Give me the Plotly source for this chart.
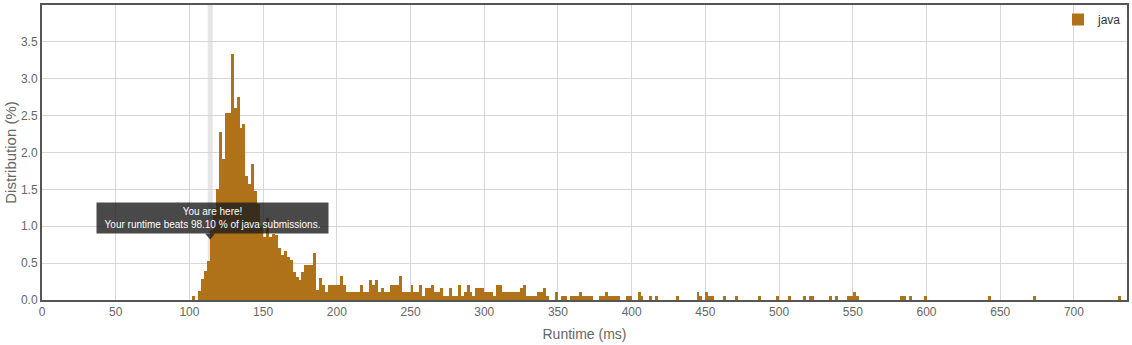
import plotly.graph_objects as go

# Runtime bins (ms, bin centres, 2 ms wide) and share of submissions (%)
runtime_ms = [
    103, 107, 109, 111, 113, 115, 117, 119, 121, 123, 125, 127, 129, 131, 133, 135, 137, 139,
    141, 143, 145, 147, 149, 151, 153, 155, 157, 159, 161, 163, 165, 167, 169, 171, 173, 175,
    177, 179, 181, 183, 185, 187, 189, 191, 193, 195, 197, 199, 201, 203, 205, 207, 209, 211,
    213, 215, 217, 219, 221, 223, 225, 227, 229, 231, 233, 235, 237, 239, 241, 243, 245, 247,
    249, 251, 253, 255, 257, 259, 261, 263, 265, 267, 269, 271, 273, 275, 277, 279, 281, 283,
    285, 287, 289, 291, 293, 295, 297, 299, 301, 303, 305, 307, 309, 311, 313, 315, 317, 319,
    321, 323, 325, 327, 329, 331, 333, 335, 337, 339, 341, 343, 349, 353, 355, 359, 361, 363,
    365, 367, 369, 371, 373, 379, 381, 383, 385, 387, 389, 391, 397, 399, 405, 407, 413, 417,
    431, 445, 447, 451, 453, 455, 463, 471, 487, 499, 507, 517, 521, 523, 535, 539, 547, 549,
    551, 553, 583, 585, 589, 599, 643, 673, 731,
]
distribution_pct = [
    0.05, 0.12, 0.28, 0.39, 0.53, 0.95, 1.25, 1.50, 2.28, 1.91, 2.53, 2.53, 3.33, 2.60, 2.75, 2.33, 2.38, 1.68,
    1.57, 1.85, 1.48, 1.30, 1.00, 0.85, 1.11, 0.85, 0.90, 0.88, 0.70, 0.61, 0.67, 0.58, 0.54, 0.38, 0.31, 0.27,
    0.38, 0.47, 0.47, 0.47, 0.64, 0.14, 0.30, 0.21, 0.11, 0.21, 0.21, 0.21, 0.21, 0.32, 0.21, 0.11, 0.11, 0.11,
    0.11, 0.11, 0.21, 0.11, 0.11, 0.27, 0.21, 0.27, 0.11, 0.16, 0.11, 0.11, 0.21, 0.21, 0.21, 0.32, 0.11, 0.11,
    0.11, 0.21, 0.11, 0.11, 0.21, 0.05, 0.16, 0.16, 0.21, 0.11, 0.11, 0.16, 0.05, 0.05, 0.16, 0.05, 0.05, 0.21,
    0.05, 0.11, 0.21, 0.11, 0.05, 0.16, 0.16, 0.16, 0.11, 0.11, 0.11, 0.05, 0.21, 0.21, 0.11, 0.11, 0.11, 0.11,
    0.11, 0.11, 0.16, 0.21, 0.05, 0.05, 0.05, 0.05, 0.11, 0.11, 0.16, 0.05, 0.11, 0.05, 0.05, 0.05, 0.05, 0.05,
    0.11, 0.05, 0.05, 0.05, 0.05, 0.05, 0.05, 0.11, 0.05, 0.05, 0.05, 0.05, 0.05, 0.05, 0.11, 0.05, 0.05, 0.05,
    0.05, 0.11, 0.05, 0.11, 0.05, 0.05, 0.05, 0.05, 0.05, 0.05, 0.05, 0.05, 0.05, 0.05, 0.05, 0.05, 0.05, 0.05,
    0.11, 0.05, 0.05, 0.05, 0.05, 0.05, 0.05, 0.05, 0.05,
]
x_ticks = [0, 50, 100, 150, 200, 250, 300, 350, 400, 450, 500, 550, 600, 650, 700]
y_ticks = [0.0, 0.5, 1.0, 1.5, 2.0, 2.5, 3.0, 3.5]
y_tick_text = ["0.0", "0.5", "1.0", "1.5", "2.0", "2.5", "3.0", "3.5"]

my_runtime = 114
my_point = 0.82
tooltip_text = "You are here!<br>Your runtime beats 98.10 % of java submissions."

FONT = "Liberation Sans, Arial, sans-serif"
AXIS_LINE = "#555555"
GRID = "#d6d6d6"
TEXT = "#666666"

fig = go.Figure()
fig.add_trace(go.Bar(
    x=runtime_ms, y=distribution_pct, width=2, name="java",
    marker=dict(color="#b07219", line=dict(width=0)),
    showlegend=True,
))

# highlighted column behind the bars
fig.add_shape(type="rect", xref="x", yref="paper", x0=112.4, x1=115.8, y0=0, y1=1,
              fillcolor="#e6e6e6", line=dict(width=0), layer="below")

# tooltip box
fig.add_annotation(
    x=my_runtime, y=my_point, xref="x", yref="y", showarrow=False,
    text=tooltip_text, xanchor="center", yanchor="bottom", yshift=6, xshift=2,
    font=dict(family=FONT, size=10, color="white"), align="center",
    bgcolor="rgba(28,28,28,0.8)", borderpad=3, width=225,
)
# caret under the tooltip
fig.add_shape(type="path", xref="x", yref="y", xsizemode="pixel", ysizemode="pixel",
              xanchor=my_runtime, yanchor=my_point, path="M -5 6 L 5 6 L 0 0 Z",
              fillcolor="rgba(28,28,28,0.8)", line=dict(width=0), layer="above")

fig.update_layout(
    width=1132, height=345,
    margin=dict(l=42, r=3, t=3, b=45),
    paper_bgcolor="white", plot_bgcolor="white",
    bargap=0,
    font=dict(family=FONT, size=12, color=TEXT),
    legend=dict(x=1, y=1, xanchor="right", yanchor="top", bgcolor="rgba(0,0,0,0)",
                font=dict(family=FONT, size=12, color="#333333"), itemwidth=30),
    xaxis=dict(range=[0, 736], tickvals=x_ticks, showgrid=True, gridcolor=GRID, gridwidth=1,
               zeroline=False, showline=True, linecolor=AXIS_LINE, linewidth=2, mirror=True,
               ticks="", tickfont=dict(size=12, color=TEXT),
               title=dict(text="Runtime (ms)", font=dict(size=14, color=TEXT), standoff=11)),
    yaxis=dict(range=[0, 4.0], tickvals=y_ticks, ticktext=y_tick_text, showgrid=True,
               gridcolor=GRID, gridwidth=1, zeroline=False, showline=True, linecolor=AXIS_LINE,
               linewidth=2, mirror=True, ticks="", tickfont=dict(size=12, color=TEXT),
               title=dict(text="Distribution (%)", font=dict(size=15, color=TEXT), standoff=1)),
)

fig.write_html("out.html")
